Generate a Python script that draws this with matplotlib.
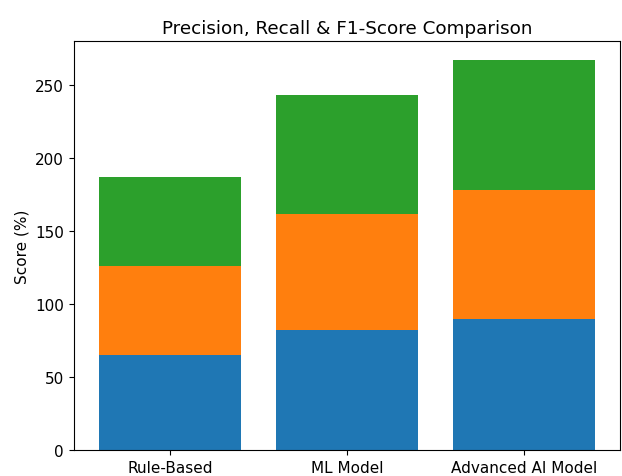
import matplotlib
matplotlib.use("Agg")
import matplotlib.pyplot as plt
import numpy as np

models = ["Rule-Based", "ML Model", "Advanced AI Model"]
precision = [65, 82, 90]
recall = [61, 80, 88]
f1_score = [61, 81, 89]

fig = plt.figure(figsize=(6.22, 4.77), dpi=100)
ax = fig.add_axes([0.119, 0.055, 0.878, 0.857])

precision = np.array(precision)
recall = np.array(recall)
f1_score = np.array(f1_score)

ax.bar(models, precision, label="Precision")
ax.bar(models, recall, bottom=precision, label="Recall")
ax.bar(models, f1_score, bottom=precision + recall, label="F1-Score")

ax.set_ylabel("Score (%)", fontsize=11)
ax.set_title("Precision, Recall & F1-Score Comparison", fontsize=13.2)
ax.tick_params(labelsize=11, length=3.8)

fig.savefig("out.png", dpi=100)
